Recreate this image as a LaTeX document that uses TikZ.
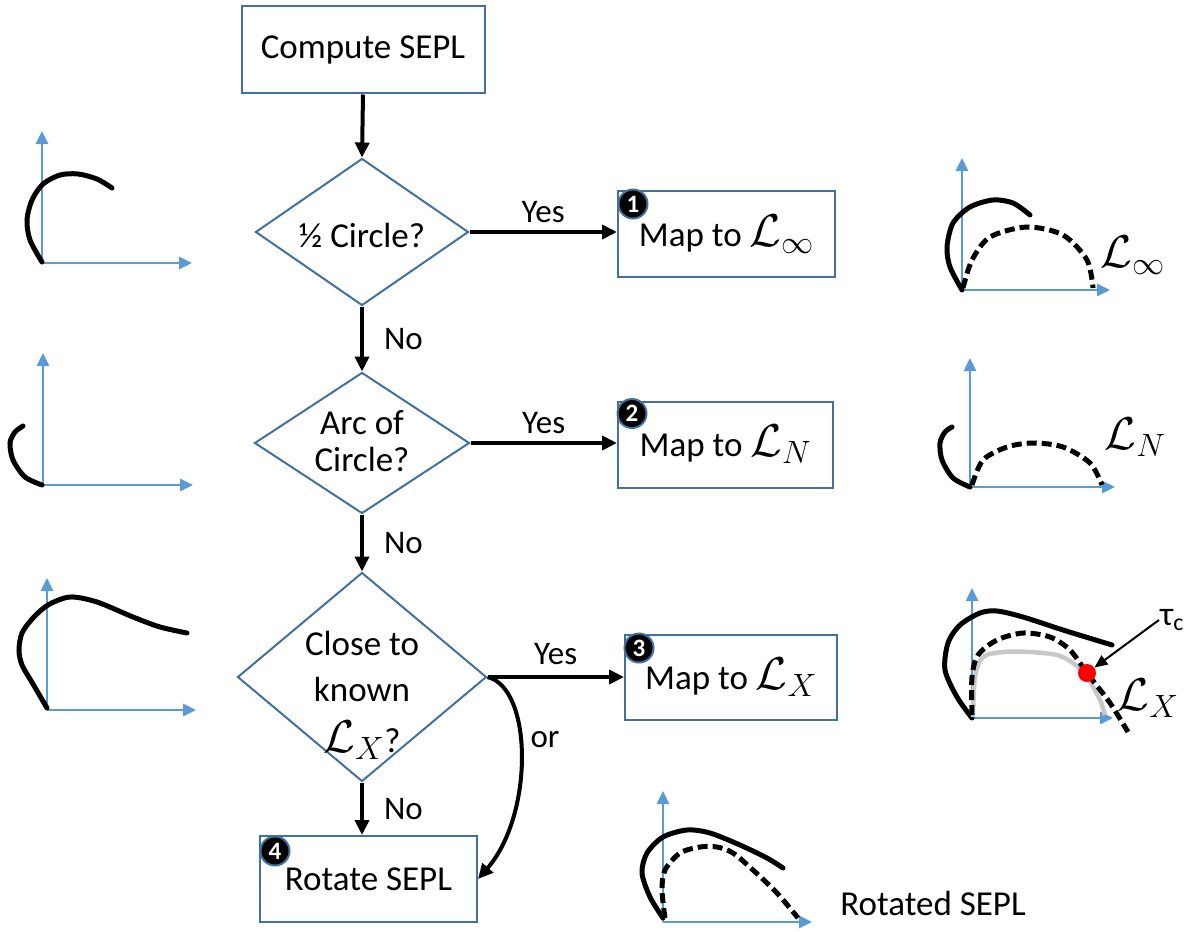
\documentclass[tikz,border=0pt]{standalone}
\usepackage{fix-cm}
\usepackage{fontspec}
\setmainfont{Carlito}
\usetikzlibrary{arrows.meta,shapes.geometric,calc}
\definecolor{boxblue}{HTML}{41719C}
\definecolor{axblue}{HTML}{5B9BD5}
\definecolor{lightgr}{HTML}{C8C8C8}
\newcommand{\calL}[1]{{\fontsize{46}{46}\selectfont$\mathcal{L}_{#1}$}}
\begin{document}
\begin{tikzpicture}[x=1pt,y=-1pt,
  txt/.style={font=\fontsize{35}{40}\selectfont, inner sep=0pt},
  lbl/.style={font=\fontsize{33}{36}\selectfont, inner sep=0pt},
  box/.style={draw=boxblue, line width=2pt, minimum width=215pt, minimum height=86pt, inner sep=0pt, font=\fontsize{35}{40}\selectfont},
  dia/.style={draw=boxblue, line width=2pt, diamond, inner sep=0pt},
  conn/.style={line width=4pt, -{Triangle[length=15pt,width=14pt]}},
  axis/.style={axblue, line width=2.6pt, -{Triangle[length=13pt,width=12pt]}},
  curve/.style={line width=5pt, line cap=round},
  dcurve/.style={line width=5pt, dash pattern=on 10pt off 5pt},
  badge/.style={circle, fill=black, draw=boxblue, line width=2pt, minimum size=29pt, inner sep=0pt, text=white, font=\fontsize{25}{25}\selectfont\bfseries},
]
\useasboundingbox (0,0) rectangle (1190,931);

% ---------- flowchart nodes ----------
\node[box, minimum width=243pt, minimum height=87pt] (cs) at (363,50) {Compute SEPL};

\node[dia, minimum width=213pt, minimum height=147pt] (d1) at (362,232) {};
\node[txt] (t1) at ($(d1)+(0,3)$) {½ Circle?};

\node[dia, minimum width=215pt, minimum height=141pt] (d2) at (362,443) {};
\node[txt, align=center, font=\fontsize{35}{37}\selectfont] (t2) at ($(d2)+(0,-2)$) {Arc of\\Circle?};

\node[dia, minimum width=249pt, minimum height=209pt] (d3) at (362,677) {};
\node[txt] (t3a) at (362,643) {Close to};
\node[txt] (t3b) at (362,689) {known};
\node[inner sep=0pt] (t3c) at (362,740) {\calL{X}{\fontsize{35}{40}\selectfont?}};

\node[box, minimum width=217pt] (b1) at (726.5,234) {Map to \calL{\infty}};
\node[box] (b2) at (725.5,444.5) {Map to \calL{N}};
\node[box, minimum width=212pt, minimum height=85pt] (b3) at (731,677.5) {Map to \calL{X}};
\node[box, minimum width=217pt, minimum height=86pt] (b4) at (368.5,879) {Rotate SEPL};

\node[badge] (n1) at ($(b1.north west)+(16,14)$) {1};
\node[badge] (n2) at ($(b2.north west)+(15,13)$) {2};
\node[badge] (n3) at ($(b3.north west)+(15,14)$) {3};
\node[badge] (n4) at ($(b4.north west)+(16,16)$) {4};

% ---------- connectors ----------
\draw[conn] (cs.south) -- (d1.north);
\draw[conn] (d1.east) -- (d1.east -| b1.west) node[lbl, midway, above=7pt] (y1) {Yes};
\draw[conn] (d1.south) -- (d2.north) node[lbl, midway, right=20pt] (no1) {No};
\draw[conn] (d2.east) -- (d2.east -| b2.west) node[lbl, midway, above=7pt] (y2) {Yes};
\draw[conn] (d2.south) -- (d3.north) node[lbl, midway, right=20pt] (no2) {No};
\draw[conn] (d3.east) -- (d3.east -| b3.west) node[lbl, midway, above=10pt] (y3) {Yes};
\draw[conn] (d3.south) -- (d3.south |- b4.north) node[lbl, midway, right=20pt] (no3) {No};
\draw[conn] (d3.east) .. controls (533,688) and (534,815) .. (b4.east);
\node[lbl] (or) at (545,740) {or};

% ---------- left graphs ----------
% graph 1
\draw[axis] (42,263) -- (42,131);
\draw[axis] (42,263) -- (192,263);
\draw[curve] plot[smooth] coordinates {(42,262) (30,240) (27,220) (32,200) (43,184) (60,175) (78,174) (97,179) (112,188)};
% graph 2
\draw[axis] (43,485) -- (43,353);
\draw[axis] (43,485) -- (193,485);
\draw[curve] plot[smooth] coordinates {(42,485) (25,477) (13,460) (10,443) (15,432) (23,426)};
% graph 3
\draw[axis] (47,710) -- (47,578);
\draw[axis] (47,710) -- (196,710);
\draw[curve] plot[smooth] coordinates {(47,708) (33,684) (22,665) (19,650) (22,633) (33,618) (48,605) (70,597) (97,602) (133,617) (160,627) (187,633)};

% ---------- right graphs ----------
% R1
\draw[axis] (962,290) -- (962,158);
\draw[axis] (962,290) -- (1110,290);
\draw[curve] plot[smooth] coordinates {(962,290) (950,267) (947,247) (953,223) (970,207) (993,200) (1013,203) (1030,215)};
\draw[dcurve] plot[smooth] coordinates {(963,288) (972,260) (990,237) (1027,227) (1063,235) (1087,260) (1093,288)};
\node (linf) at (1133,255) {\calL{\infty}};
% R2
\draw[axis] (970,487) -- (970,358);
\draw[axis] (970,487) -- (1115,487);
\draw[curve] plot[smooth] coordinates {(970,487) (953,478) (942,460) (940,443) (945,432) (952,427)};
\draw[dcurve] plot[smooth] coordinates {(972,485) (983,460) (1007,447) (1033,443) (1063,447) (1090,463) (1102,485)};
\node (lN) at (1135,437) {\calL{N}};
% R3
\draw[axis] (972,718) -- (972,588);
\draw[axis] (972,718) -- (1113,718);
\draw[curve] plot[smooth] coordinates {(972,718) (957,697) (945,670) (948,643) (960,625) (980,613) (997,611) (1023,617) (1063,630) (1112,645)};
\draw[lightgr, line width=4.5pt] plot[smooth] coordinates {(973,717) (975,677) (983,657) (1003,652) (1030,652) (1057,655) (1073,663) (1087,677) (1100,700) (1105,715)};
\draw[dcurve] plot[smooth] coordinates {(972,715) (972,677) (978,655) (997,640) (1023,633) (1050,637) (1070,650) (1087,673) (1110,703) (1128,732)};
\node[circle, fill=red, inner sep=0pt, minimum size=18pt] (dot) at (1087,673) {};
\node[font=\fontsize{34}{34}\selectfont, inner sep=1pt] (tau) at (1172,620) {τ\textsubscript{c}};
\draw[line width=2pt, -{Triangle[length=13pt,width=11pt]}] (tau.west) -- (dot);
\node (lX) at (1148,698) {\calL{X}};

% ---------- bottom graph ----------
\draw[axis] (663,922) -- (663,791);
\draw[axis] (663,922) -- (812,922);
\draw[curve] plot[smooth] coordinates {(663,918) (650,897) (642,873) (647,853) (663,837) (687,830) (710,833) (740,845) (767,858) (783,868)};
\draw[dcurve] plot[smooth] coordinates {(665,918) (662,890) (665,870) (680,853) (700,847) (717,847) (733,853) (753,870) (777,893) (798,918)};
\node[txt] (rot) at (933,903) {Rotated SEPL};
\end{tikzpicture}
\end{document}
